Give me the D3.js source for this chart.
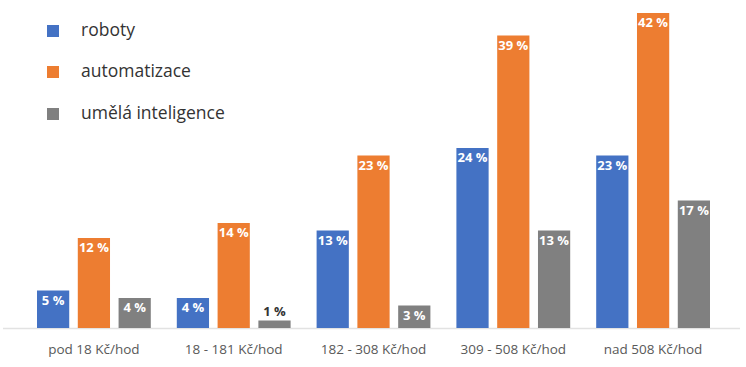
<!DOCTYPE html>
<html><head><meta charset="utf-8">
<script src="https://cdn.jsdelivr.net/npm/d3@7"></script>
<style>body{margin:0;background:#fff}svg{display:block}</style>
</head><body>
<script>
const categories = ["pod 18 Kč/hod", "18 - 181 Kč/hod", "182 - 308 Kč/hod", "309 - 508 Kč/hod", "nad 508 Kč/hod"];
const seriesNames = ["roboty", "automatizace", "umělá inteligence"];
const roboty = [5, 4, 13, 24, 23];
const automatizace = [12, 14, 23, 39, 42];
const umelaInteligence = [4, 1, 3, 13, 17];
const colors = ["#4472c4", "#ed7d31", "#808080"];

const W = 746, H = 367;
const svg = d3.select("body").append("svg").attr("width", W).attr("height", H);
const series = [roboty, automatizace, umelaInteligence];
const baseY = 328;

const x0 = d3.scaleBand().domain(categories).range([24, 723]).padding(0);
const x1 = d3.scaleBand().domain(seriesNames).range([13, x0.bandwidth() - 13]).paddingInner(0.21).paddingOuter(0);
const y = d3.scaleLinear().domain([0, 42]).range([baseY, 13]);

// axis line
svg.append("line").attr("x1", 3).attr("x2", 740).attr("y1", baseY + 0.5).attr("y2", baseY + 0.5)
  .attr("stroke", "#e2e2e2").attr("stroke-width", 1.5);

const g = svg.append("g");
categories.forEach((c, i) => {
  const gg = g.append("g").attr("transform", `translate(${x0(c)},0)`);
  seriesNames.forEach((s, j) => {
    const v = series[j][i];
    const bx = x1(s), bw = x1.bandwidth();
    gg.append("rect").attr("x", bx).attr("y", y(v)).attr("width", bw).attr("height", baseY - y(v)).attr("fill", colors[j]);
    const inside = (baseY - y(v)) > 18;
    gg.append("text").attr("x", bx + bw / 2).attr("y", inside ? y(v) + 14 : y(v) - 5)
      .attr("text-anchor", "middle").attr("font-family", "'Open Sans', sans-serif").attr("font-weight", "bold")
      .attr("font-size", 13).attr("fill", inside ? "#fff" : "#333").text(v + " %");
  });
  svg.append("text").attr("x", x0(c) + x0.bandwidth() / 2).attr("y", 354).attr("text-anchor", "middle")
    .attr("font-family", "'Open Sans', sans-serif").attr("font-size", 13.5).attr("fill", "#595959").text(c);
});

// legend
const ly = [25, 66, 108];
seriesNames.forEach((s, j) => {
  svg.append("rect").attr("x", 47).attr("y", ly[j]).attr("width", 12).attr("height", 12).attr("fill", colors[j]);
  svg.append("text").attr("x", 81).attr("y", ly[j] + 11).attr("font-family", "'Open Sans', sans-serif")
    .attr("font-size", 17.5).attr("fill", "#333").text(s);
});
</script>
</body></html>
